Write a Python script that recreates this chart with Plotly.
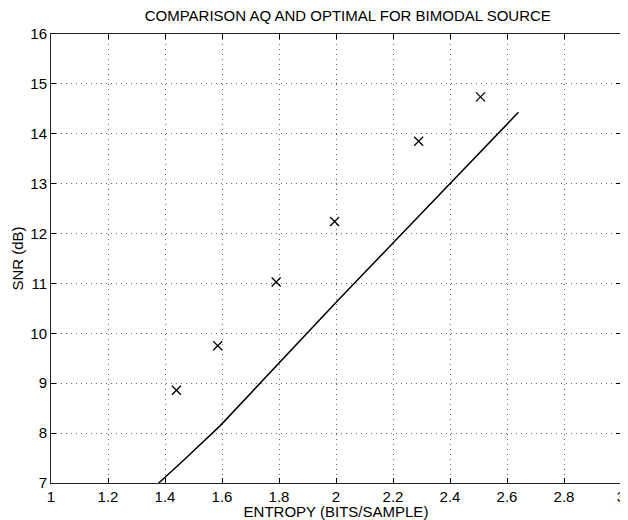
import plotly.graph_objects as go

# AQ (measured) points
aq_entropy = [1.44, 1.585, 1.79, 1.995, 2.29, 2.507]
aq_snr = [8.86, 9.75, 11.03, 12.24, 13.85, 14.74]

# Optimal curve
opt_entropy = [1.378, 1.47, 1.594, 1.70, 1.874, 2.008, 2.20, 2.40, 2.64]
opt_snr = [7.0, 7.48, 8.15, 8.80, 9.87, 10.67, 11.81, 13.0, 14.43]

x_ticks = [1, 1.2, 1.4, 1.6, 1.8, 2, 2.2, 2.4, 2.6, 2.8, 3]
x_tick_labels = ["1", "1.2", "1.4", "1.6", "1.8", "2", "2.2", "2.4", "2.6", "2.8", "3"]
y_ticks = [7, 8, 9, 10, 11, 12, 13, 14, 15, 16]

fig = go.Figure()
fig.add_trace(go.Scatter(x=opt_entropy, y=opt_snr, mode="lines",
                         line=dict(color="black", width=1.5), showlegend=False, cliponaxis=True))
fig.add_trace(go.Scatter(x=aq_entropy, y=aq_snr, mode="markers",
                         marker=dict(symbol="x-thin", size=9, line=dict(color="black", width=1.3)),
                         showlegend=False))

font = dict(family="Liberation Sans, Arial, sans-serif", size=15, color="black")
axis_common = dict(showline=True, linecolor="#222", linewidth=1, mirror="ticks",
                   ticks="inside", ticklen=5, tickcolor="black",
                   showgrid=True, gridcolor="#666", griddash="1px,4px", gridwidth=1,
                   zeroline=False, tickfont=font, automargin=False,
                   ticklabeloverflow="allow")

# page body adds an 8px offset; size and margins compensate for it
fig.update_layout(
    width=620, height=512,
    margin=dict(l=43, r=7, t=26, b=37),
    paper_bgcolor="white", plot_bgcolor="white",
    title=dict(text="COMPARISON AQ AND OPTIMAL FOR BIMODAL SOURCE", x=0.548, xanchor="center",
               yref="container", y=0.9845, yanchor="middle", font=font, automargin=False),
    xaxis=dict(range=[1, 3], tickvals=x_ticks, ticktext=x_tick_labels,
               title=dict(text="ENTROPY (BITS/SAMPLE)", font=font, standoff=0), **axis_common),
    yaxis=dict(range=[7, 16], tickvals=y_ticks,
               title=dict(text="SNR (dB)", font=font, standoff=3), **axis_common),
    font=font,
)

fig.write_html("out.html")
